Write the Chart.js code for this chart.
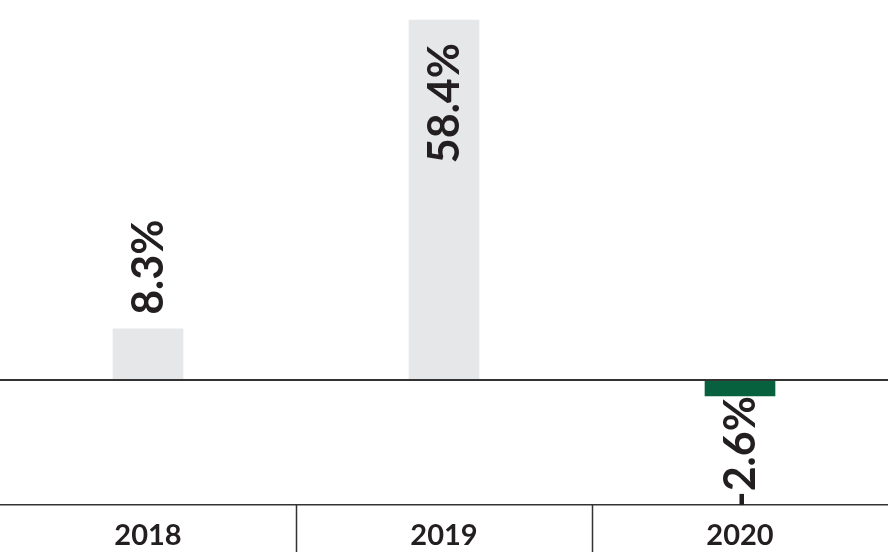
<!DOCTYPE html>
<html>
<head>
<meta charset="utf-8">
<script src="https://cdn.jsdelivr.net/npm/chart.js@4"></script>
<style>
  body { margin: 0; background: #fff; }
  #wrap { width: 888px; height: 554px; position: relative; }
</style>
</head>
<body>
<div id="wrap"><canvas id="growthChart"></canvas></div>
<script>
const years = ['2018', '2019', '2020'];
const growth = [8.3, 58.4, -2.6];
const labelTexts = ['8.3%', '58.4%', '-2.6%'];

const ink = '#231f20';

// rotated value labels: inside the bar if it fits, otherwise beyond its end
const barLabels = {
    id: 'barLabels',
    afterDatasetsDraw(chart) {
        const ctx = chart.ctx;
        const meta = chart.getDatasetMeta(0);
        const size = 43;
        ctx.save();
        ctx.font = 'bold ' + size + 'px Lato';
        ctx.fillStyle = ink;
        ctx.textBaseline = 'alphabetic';
        meta.data.forEach((bar, i) => {
            const text = labelTexts[i];
            const w = ctx.measureText(text).width;
            const h = Math.abs(bar.base - bar.y);
            let y, align;
            if (growth[i] >= 0) {
                if (h > w + 40) { y = bar.y + 23; align = 'right'; }
                else { y = bar.y - 14; align = 'left'; }
            } else {
                y = bar.y; align = 'right';
            }
            ctx.save();
            ctx.translate(bar.x + size * 0.36, y);
            ctx.rotate(-Math.PI / 2);
            ctx.textAlign = align;
            ctx.fillText(text, 0, 0);
            ctx.restore();
        });
        ctx.restore();
    }
};

// zero line and category separators under the axis
const axisLines = {
    id: 'axisLines',
    afterDatasetsDraw(chart) {
        const ctx = chart.ctx;
        const area = chart.chartArea;
        const x = chart.scales.x;
        const y0 = Math.round(chart.scales.y.getPixelForValue(0));
        ctx.save();
        ctx.strokeStyle = '#333';
        ctx.lineWidth = 2;
        ctx.beginPath();
        ctx.moveTo(area.left, y0);
        ctx.lineTo(area.right, y0);
        ctx.stroke();
        ctx.lineWidth = 1.5;
        for (let i = 1; i < years.length; i++) {
            const sx = Math.round((x.getPixelForTick(i - 1) + x.getPixelForTick(i)) / 2) + 0.5;
            ctx.beginPath();
            ctx.moveTo(sx, area.bottom);
            ctx.lineTo(sx, area.bottom + 47);
            ctx.stroke();
        }
        ctx.restore();
    }
};

new Chart(document.getElementById('growthChart'), {
    type: 'bar',
    data: {
        labels: years,
        datasets: [{
            data: growth,
            backgroundColor: growth.map(v => v < 0 ? '#07613f' : '#e6e7e8'),
            barThickness: 70
        }]
    },
    options: {
        responsive: true,
        maintainAspectRatio: false,
        animation: false,
        layout: { padding: 0 },
        plugins: {
            legend: { display: false },
            tooltip: { enabled: false }
        },
        scales: {
            x: {
                grid: { display: false },
                border: { display: true, color: '#333', width: 1.5 },
                afterFit(scale) { scale.height = 49; },
                ticks: {
                    color: ink,
                    padding: 5,
                    font: { family: 'Lato', weight: 'bold', size: 29 }
                }
            },
            y: {
                display: false,
                min: -20.28,
                max: 61.64
            }
        }
    },
    plugins: [barLabels, axisLines]
});
</script>
</body>
</html>
